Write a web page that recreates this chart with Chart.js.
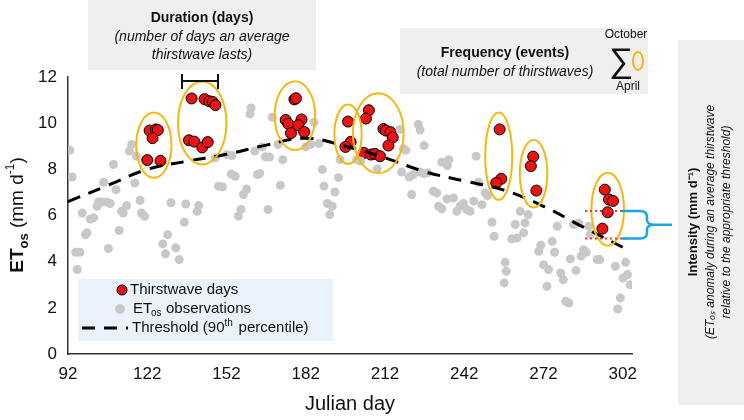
<!DOCTYPE html>
<html>
<head>
<meta charset="utf-8">
<script src="https://cdn.jsdelivr.net/npm/chart.js@4"></script>
<style>
  html, body { margin: 0; padding: 0; background: #fff; }
  #wrap { width: 744px; height: 420px; }
</style>
</head>
<body>
<div id="wrap"><canvas id="grafico"></canvas></div>
<script>
// --- datos ---
const xTicks = [92, 122, 152, 182, 212, 242, 272, 302];
const yTicks = [0, 2, 4, 6, 8, 10, 12];

// ondas de sed (una lista por cluster)
const wave1 = [[122.9, 9.68], [125.3, 9.73], [126, 9.7], [124, 9.35], [122, 8.4], [127, 8.37]];
const wave2 = [[138.8, 11.07], [143.7, 11.04], [145.5, 10.95], [146.8, 10.92], [147.8, 10.78],
               [137.8, 9.26], [139.8, 9.2], [142.8, 8.95], [144.9, 9.18]];
const wave3 = [[177.7, 11.03], [178.3, 11.08], [174.4, 10.14], [175.4, 9.97], [180.4, 10.16],
               [179.2, 9.91], [181.4, 9.62], [176.4, 9.57]];
const wave4 = [[198, 10.07], [199, 9.19], [197, 8.97]];
const wave5 = [[205.9, 10.56], [204.8, 10.2], [204, 8.71], [206.7, 8.64], [208.2, 8.67], [210.1, 8.57],
               [211.4, 9.75], [212.3, 9.68], [214.1, 9.61], [214.9, 9.38], [213.3, 9.03]];
const wave6 = [[255.4, 9.73], [256, 7.59], [254.1, 7.41]];
const wave7 = [[268.1, 8.55], [267.2, 8.14], [269.3, 7.08]];
const wave8 = [[295.2, 7.12], [296.8, 6.69], [298.3, 6.63], [296.3, 6.14], [294.3, 5.43]];
const waves = [wave1, wave2, wave3, wave4, wave5, wave6, wave7, wave8];

const etosObs = [
  [92.7, 8.83], [93.6, 7.67], [94.9, 4.41], [96.5, 4.41], [95.5, 3.66], [97.4, 6.11], [98.6, 5.17], [99.2, 5.25],
  [100.5, 5.85], [101.7, 5.9], [103, 6.4], [103.6, 6.58], [104.8, 6.58], [105.5, 7.44], [106.7, 6.58], [108, 6.52],
  [107.3, 4.57], [109.2, 8.21], [110.2, 7.12], [111.4, 5.35], [112.3, 6.18], [112.9, 6.11], [114.2, 6.43],
  [115.2, 8.79], [116.1, 9.08], [117.3, 7.41], [117.9, 8.57], [119.3, 6.66], [119.8, 6.11], [121, 5.97],
  [127.9, 4.77], [128.9, 4.34], [129.7, 5.17], [131, 6.55], [132.8, 4.6], [134.1, 4.09], [136, 5.71], [136.6, 6.5],
  [140.9, 6.18], [141.5, 6.43], [147.8, 8.5], [149, 7.27], [150.5, 7.24], [152.1, 8.64], [154, 8.6], [153.8, 7.8],
  [155.3, 7.7], [156.5, 5.97], [157.5, 6.26], [158.4, 6.91], [159.6, 7.15], [160.9, 10.4], [161.3, 10.66],
  [162.7, 8.79], [163.7, 7.77], [164.6, 7.82], [165.5, 8.97], [166.7, 8.54], [167.7, 6.26], [168.3, 8.53],
  [169.3, 10.26], [171.5, 9.08], [172.4, 7.31], [173.3, 8.42], [182, 8.97], [183.9, 9.08], [185.1, 10.04],
  [187, 9.12], [188.3, 7.99], [188.9, 7.27], [190.2, 6.52], [192, 6.4], [191.1, 6.04], [193, 7.02], [194.4, 7.64],
  [195, 8.42], [201.3, 8.42], [202.8, 8.35],
  [209.1, 8.02], [217.7, 9.73], [219, 8.89], [219.9, 8.83], [224.6, 9.94], [225.3, 9.7], [226.8, 9.03],
  [218.3, 7.88], [221.2, 7.67], [222.7, 7.77], [222.1, 6.91], [225.3, 7.88], [226.8, 7.82], [228.1, 7.85],
  [233.5, 8.31], [236.2, 8.42], [235.6, 8.16], [230.3, 7.05], [231.6, 6.98], [232.3, 6.4], [233.5, 6.29],
  [235.4, 6.72], [237.9, 6.76], [239.2, 6.18], [240.4, 6.4], [241.7, 6.52], [243, 6.26], [244.2, 6.18],
  [245.6, 6.62], [246.5, 8.57], [247.4, 7.44], [248.7, 6.47], [249.9, 6.98], [250.8, 6.86], [252.5, 5.71],
  [253.3, 5.1], [257.5, 3.97], [257.9, 3.58], [257.1, 3.08], [261.3, 5.61], [260, 4.99], [262, 5.03],
  [263.2, 6.18], [264.5, 5.25], [265, 5.68], [266.2, 6.04], [270.2, 4.45], [271, 4.71], [272, 3.87],
  [273.9, 3.66], [273.3, 2.93], [275.3, 4.88], [276.2, 4.41], [277.2, 5.53], [278.5, 3.51], [279.5, 3.22],
  [280.4, 2.28], [281.6, 2.21], [282.2, 4.12], [283.4, 5.61], [284.3, 3.62], [285.3, 5.68], [286.2, 4.24],
  [287.2, 4.52], [288.2, 4.41], [289.1, 5.53], [289.7, 5.17], [292.3, 4.09], [293.3, 4.09], [299.2, 3.8],
  [300.1, 1.95], [301.1, 2.43], [302.1, 3.29], [303.1, 3.97], [303.8, 3.44], [304.8, 3.0]
];

// umbral (percentil 90)
const umbralDias = [92, 107, 122, 137, 152, 167, 182, 197, 212, 227, 242, 257, 272, 287, 305];
const umbralValores = [6.6, 7.3, 8.0, 8.35, 8.65, 9.05, 9.35, 9.0, 8.5, 7.9, 7.5, 7.1, 6.4, 5.5, 4.45];

const xy = arr => arr.map(p => ({ x: p[0], y: p[1] }));
const DEJA = '"Liberation Sans", Arial, sans-serif';

// dibujos extra: elipses, cajas de texto, leyenda
const extras = {
  id: 'extras',
  afterDatasetsDraw(chart) {
    const c = chart.ctx, xs = chart.scales.x, ys = chart.scales.y;
    c.save();
    // elipses amarillas
    c.strokeStyle = '#f5b80b';
    c.lineWidth = 2;
    waves.forEach(w => {
      const px = w.map(p => xs.getPixelForValue(p[0]));
      const py = w.map(p => ys.getPixelForValue(p[1]));
      const x0 = Math.min(...px), x1 = Math.max(...px), y0 = Math.min(...py), y1 = Math.max(...py);
      c.beginPath();
      c.ellipse((x0 + x1) / 2, (y0 + y1) / 2, (x1 - x0) / 2 + 11, (y1 - y0) / 2 + 17, 0, 0, Math.PI * 2);
      c.stroke();
    });

    // intensidad: lineas rojas punteadas y llave azul
    const yA = ys.getPixelForValue(6.2), yB = ys.getPixelForValue(5.0);
    c.strokeStyle = '#ff3030';
    c.lineWidth = 2;
    c.setLineDash([2, 3]);
    [yA, yB].forEach(yy => { c.beginPath(); c.moveTo(585, yy); c.lineTo(630, yy); c.stroke(); });
    c.setLineDash([]);
    c.strokeStyle = '#1aa7e0';
    c.lineWidth = 2.5;
    const ym = (yA + yB) / 2;
    c.beginPath();
    c.moveTo(622, yA); c.lineTo(640, yA); c.quadraticCurveTo(647, yA, 647, yA + 6);
    c.lineTo(647, ym - 4); c.quadraticCurveTo(648, ym, 654, ym); c.lineTo(672, ym);
    c.moveTo(654, ym); c.quadraticCurveTo(648, ym, 647, ym + 4);
    c.lineTo(647, yB - 6); c.quadraticCurveTo(647, yB, 640, yB); c.lineTo(622, yB);
    c.stroke();

    // caja de duracion
    c.fillStyle = '#efefef';
    c.fillRect(88, 0, 228, 70);
    c.fillStyle = '#111';
    c.textAlign = 'center';
    c.textBaseline = 'middle';
    c.font = 'bold 14px ' + DEJA;
    c.fillText('Duration (days)', 202, 18);
    c.font = 'italic 14px ' + DEJA;
    c.fillText('(number of days an average', 202, 37);
    c.fillText('thirstwave lasts)', 202, 55);
    c.strokeStyle = '#111';
    c.lineWidth = 2;
    c.beginPath();
    c.moveTo(182, 74); c.lineTo(182, 89);
    c.moveTo(218, 74); c.lineTo(218, 89);
    c.moveTo(182, 81); c.lineTo(218, 81);
    c.stroke();

    // caja de frecuencia
    c.fillStyle = '#efefef';
    c.fillRect(400, 28, 248, 66);
    c.fillStyle = '#111';
    c.font = 'bold 14px ' + DEJA;
    c.fillText('Frequency (events)', 505, 53);
    c.font = 'italic 14px ' + DEJA;
    c.fillText('(total number of thirstwaves)', 505, 72);
    c.font = '34px ' + DEJA;
    c.fillText('\u2211', 621, 63);
    c.font = '12px ' + DEJA;
    c.fillText('October', 626, 35);
    c.fillText('April', 628, 87);
    c.strokeStyle = '#f5b80b';
    c.lineWidth = 2;
    c.beginPath(); c.ellipse(638, 61, 5, 9, 0, 0, Math.PI * 2); c.stroke();

    // panel derecho (intensidad)
    c.fillStyle = '#efefef';
    c.fillRect(678, 40, 66, 365);
    c.save();
    c.translate(711, 222);
    c.rotate(-Math.PI / 2);
    c.fillStyle = '#111';
    c.font = 'bold 13px ' + DEJA;
    c.fillText('Intensity (mm d\u207B\u00B9)', 0, -18);
    c.font = 'italic 12px ' + DEJA;
    c.fillText('(ET\u2092\u209B anomaly during an average thirstwave', 0, 0);
    c.fillText('relative to the appropriate threshold)', 0, 16);
    c.restore();

    // leyenda
    c.fillStyle = 'rgba(225,238,248,0.75)';
    c.fillRect(78, 279, 255, 62);
    c.fillStyle = '#ee1111';
    c.strokeStyle = '#000';
    c.lineWidth = 1;
    c.beginPath(); c.arc(122, 290, 5, 0, Math.PI * 2); c.fill(); c.stroke();
    c.fillStyle = '#c8c8c8';
    c.beginPath(); c.arc(120, 309, 5, 0, Math.PI * 2); c.fill();
    c.strokeStyle = '#000';
    c.lineWidth = 3;
    c.setLineDash([13, 9]);
    c.beginPath(); c.moveTo(82, 328); c.lineTo(128, 328); c.stroke();
    c.setLineDash([]);
    c.fillStyle = '#111';
    c.textAlign = 'left';
    c.font = '15px ' + DEJA;
    c.fillText('Thirstwave days', 130, 290);
    c.fillText('ET', 133, 309);
    c.font = '10px ' + DEJA;
    c.fillText('os', 151, 313);
    c.font = '15px ' + DEJA;
    c.fillText('observations', 166, 309);
    c.fillText('Threshold (90', 132, 328);
    const w1 = c.measureText('Threshold (90').width;
    c.font = '10px ' + DEJA;
    c.fillText('th', 132 + w1, 323);
    c.font = '15px ' + DEJA;
    c.fillText('percentile)', 132 + w1 + 14, 328);

    // titulo eje y
    c.save();
    c.translate(18, 215);
    c.rotate(-Math.PI / 2);
    c.textAlign = 'left';
    c.font = 'bold 19px ' + DEJA;
    let t = 'ET';
    const wET = c.measureText(t).width;
    c.font = 'bold 13px ' + DEJA;
    const wos = c.measureText('os').width;
    c.font = '19px ' + DEJA;
    const wmid = c.measureText(' (mm d').width;
    c.font = '12px ' + DEJA;
    const wm1 = c.measureText('-1').width;
    c.font = '19px ' + DEJA;
    const wtot = wET + wos + wmid + wm1 + c.measureText(')').width;
    let px = -wtot / 2;
    c.font = 'bold 19px ' + DEJA; c.fillText('ET', px, 0); px += wET;
    c.font = 'bold 13px ' + DEJA; c.fillText('os', px, 6); px += wos;
    c.font = '19px ' + DEJA; c.fillText(' (mm d', px, 0); px += wmid;
    c.font = '12px ' + DEJA; c.fillText('-1', px, -7); px += wm1;
    c.font = '19px ' + DEJA; c.fillText(')', px, 0);
    c.restore();
    c.restore();
  }
};

new Chart(document.getElementById('grafico').getContext('2d'), {
  type: 'scatter',
  data: {
    datasets: [
      {
        label: 'Thirstwave days',
        data: xy(waves.flat()),
        backgroundColor: '#ee1111',
        borderColor: '#000',
        borderWidth: 1,
        pointRadius: 5.5
      },
      {
        label: 'ETos observations',
        data: xy(etosObs),
        backgroundColor: '#c8c8c8',
        borderWidth: 0,
        pointRadius: 4.5
      },
      {
        label: 'Threshold (90th percentile)',
        type: 'line',
        data: umbralDias.map((d, i) => ({ x: d, y: umbralValores[i] })),
        borderColor: '#000',
        borderWidth: 3,
        borderDash: [13, 9],
        pointRadius: 0,
        tension: 0.4,
        fill: false
      }
    ].reverse()
  },
  options: {
    responsive: true,
    maintainAspectRatio: false,
    animation: false,
    layout: { padding: { top: 77, right: 112, left: 0, bottom: 0 } },
    plugins: { legend: { display: false }, tooltip: { enabled: false } },
    scales: {
      x: {
        type: 'linear', min: 92, max: 305.5,
        afterBuildTicks: s => { s.ticks = xTicks.map(v => ({ value: v })); },
        afterFit: s => { s.height = 66; },
        grid: { display: false, drawTicks: true },
        border: { color: '#333', width: 1.5 },
        ticks: { color: '#111', font: { size: 17, family: DEJA }, padding: 2 },
        title: { display: true, text: 'Julian day', color: '#111', font: { size: 20, family: DEJA }, padding: { top: 14 } }
      },
      y: {
        min: 0, max: 12,
        afterBuildTicks: s => { s.ticks = yTicks.map(v => ({ value: v })); },
        afterFit: s => { s.width = 68; },
        grid: { display: false },
        border: { color: '#333', width: 1.5 },
        ticks: { color: '#111', font: { size: 17, family: DEJA } }
      }
    }
  },
  plugins: [extras]
});
</script>
</body>
</html>
